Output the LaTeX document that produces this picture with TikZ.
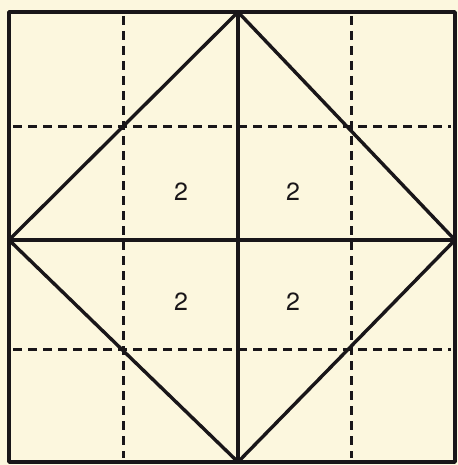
\documentclass[tikz,border=0pt]{standalone}
\usepackage{fontspec}
\setsansfont{TeX Gyre Heros}
\usetikzlibrary{positioning}
\definecolor{paper}{RGB}{252,247,222}
\definecolor{ink}{RGB}{25,22,25}
\tikzset{
  edge/.style={draw=ink, line width=3.4bp, line cap=round, line join=round},
  guide/.style={draw=ink, line width=3bp, dash pattern=on 9bp off 6bp},
  num/.style={font=\sffamily\fontsize{25}{28}\selectfont, text=ink, inner sep=0pt},
}
\begin{document}
\begin{tikzpicture}[x=1bp,y=-1bp]
    \fill[paper] (0,0) rectangle (458,465);
    \useasboundingbox (0,0) rectangle (458,465);
    % outer square corners and side midpoints
    \coordinate (tl) at (9,12);   \coordinate (tr) at (455,12);
    \coordinate (bl) at (9,462);  \coordinate (br) at (455,462);
    \coordinate (tm) at (238,12); \coordinate (bm) at (238,462);
    \coordinate (lm) at (9,240);  \coordinate (rm) at (455,240);
    % dashed quarter lines
    \coordinate (q1t) at (123,16); \coordinate (q1b) at (123,458);
    \coordinate (q3t) at (351,16); \coordinate (q3b) at (351,458);
    \coordinate (p1l) at (13,127); \coordinate (p1r) at (451,127);
    \coordinate (p3l) at (13,349); \coordinate (p3r) at (451,349);
    \draw[guide] (q1t)--(q1b); \draw[guide] (q3t)--(q3b);
    \draw[guide] (p1l)--(p1r); \draw[guide] (p3l)--(p3r);
    \draw[edge] (tl) rectangle (br);
    \draw[edge] (tm)--(bm); \draw[edge] (lm)--(rm);
    \draw[edge] (tm)--(rm)--(bm)--(lm)--cycle;
    \node[num] (a) at (181,192) {2};
    \node[num] (b) at (293,192) {2};
    \node[num] (c) at (181,302) {2};
    \node[num] (d) at (293,302) {2};
  \end{tikzpicture}
\end{document}
